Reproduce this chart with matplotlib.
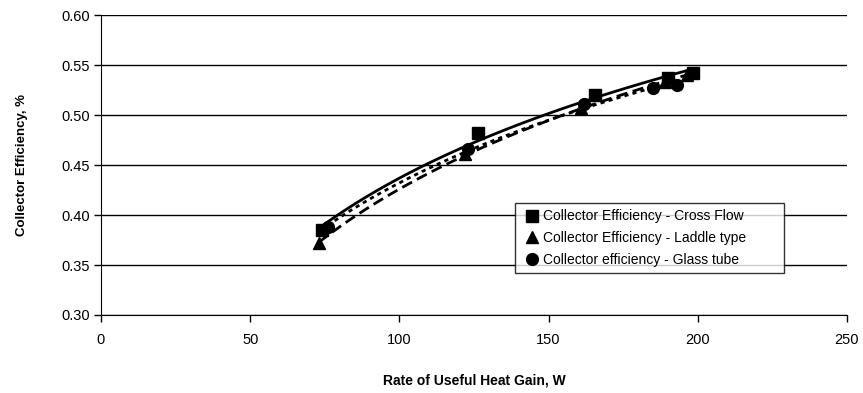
import numpy as np
import matplotlib
matplotlib.use("Agg")
import matplotlib.pyplot as plt

plt.rcParams['font.family'] = ['Liberation Sans', 'DejaVu Sans']

# data
cross_x = [74, 126.5, 165.5, 190, 198.5]
cross_y = [0.385, 0.482, 0.520, 0.537, 0.542]
laddle_x = [73, 122, 161, 189, 196.5]
laddle_y = [0.372, 0.461, 0.507, 0.533, 0.540]
glass_x = [76, 123, 162, 185, 193]
glass_y = [0.388, 0.466, 0.511, 0.527, 0.530]

labels = ['Collector Efficiency - Cross Flow',
          'Collector Efficiency - Laddle type',
          'Collector efficiency - Glass tube']

fig = plt.figure(figsize=(8.63, 3.93), dpi=100)
ax = fig.add_axes([0.117, 0.1985, 0.8644, 0.763])

series = [(cross_x, cross_y, 's', '-'),
          (laddle_x, laddle_y, '^', (0, (4, 2))),
          (glass_x, glass_y, 'o', (0, (1.5, 1.5)))]

for (x, y, m, ls), lab in zip(series, labels):
    # logarithmic trendline, as excel draws it
    a, b = np.polyfit(np.log(x), y, 1)
    xx = np.linspace(min(x), max(x), 100)
    ax.plot(xx, a * np.log(xx) + b, color='black', lw=2, ls=ls, zorder=3)
    ax.plot(x, y, m, color='black', ms=8.5, ls='none', label=lab, zorder=4)

ax.set_xlim(0, 250)
ax.set_ylim(0.30, 0.60)
ax.set_xticks([0, 50, 100, 150, 200, 250])
yt = np.arange(0.30, 0.601, 0.05)
ax.set_yticks(yt)
ax.set_yticklabels(['%.2f' % v for v in yt])
ax.yaxis.grid(True, color='black', lw=1)
ax.set_axisbelow(True)
for s in ['top', 'right']:
    ax.spines[s].set_visible(False)
ax.tick_params(direction='out', length=5, width=1, labelsize=10.5, pad=3)
ax.tick_params(axis='x', pad=8)

ax.set_xlabel('Rate of Useful Heat Gain, W', fontsize=10, fontweight='bold', labelpad=19)
ax.set_ylabel('Collector Efficiency, %', fontsize=9.5, fontweight='bold', labelpad=24)

leg = ax.legend(loc='lower left', bbox_to_anchor=(0.555, 0.14, 0.36, 0.22), mode='expand',
                fontsize=10, frameon=True, fancybox=False, edgecolor='black',
                handletextpad=0.1, labelspacing=0.55, borderpad=0.45, handlelength=1.5,
                borderaxespad=0)
leg.get_frame().set_linewidth(1)

fig.savefig('out.png', dpi=100)
